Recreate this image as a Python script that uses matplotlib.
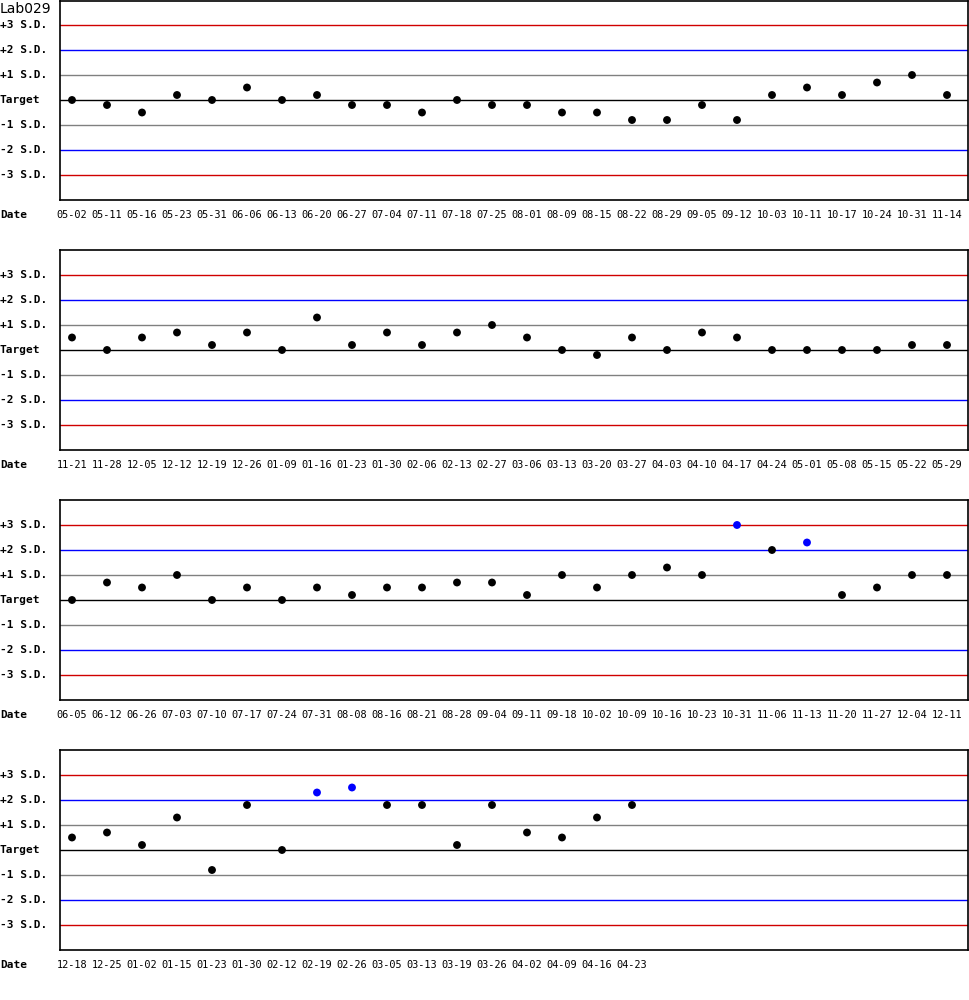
import matplotlib
matplotlib.use("Agg")
import matplotlib.pyplot as plt
import matplotlib.transforms as mtrans

title = "Lab029"
sd_levels = [3, 2, 1, 0, -1, -2, -3]
sd_labels = ["+3 S.D.", "+2 S.D.", "+1 S.D.", "Target", "-1 S.D.", "-2 S.D.", "-3 S.D."]
sd_colors = ["#d00000", "#0000ff", "#808080", "#000000", "#808080", "#0000ff", "#d00000"]

dates1 = ["05-02", "05-11", "05-16", "05-23", "05-31", "06-06", "06-13", "06-20", "06-27",
          "07-04", "07-11", "07-18", "07-25", "08-01", "08-09", "08-15", "08-22", "08-29",
          "09-05", "09-12", "10-03", "10-11", "10-17", "10-24", "10-31", "11-14"]
values1 = [0, -0.2, -0.5, 0.2, 0, 0.5, 0, 0.2, -0.2, -0.2, -0.5, 0, -0.2, -0.2, -0.5, -0.5,
           -0.8, -0.8, -0.2, -0.8, 0.2, 0.5, 0.2, 0.7, 1.0, 0.2]

dates2 = ["11-21", "11-28", "12-05", "12-12", "12-19", "12-26", "01-09", "01-16", "01-23",
          "01-30", "02-06", "02-13", "02-27", "03-06", "03-13", "03-20", "03-27", "04-03",
          "04-10", "04-17", "04-24", "05-01", "05-08", "05-15", "05-22", "05-29"]
values2 = [0.5, 0, 0.5, 0.7, 0.2, 0.7, 0, 1.3, 0.2, 0.7, 0.2, 0.7, 1.0, 0.5, 0, -0.2, 0.5,
           0, 0.7, 0.5, 0, 0, 0, 0, 0.2, 0.2]

dates3 = ["06-05", "06-12", "06-26", "07-03", "07-10", "07-17", "07-24", "07-31", "08-08",
          "08-16", "08-21", "08-28", "09-04", "09-11", "09-18", "10-02", "10-09", "10-16",
          "10-23", "10-31", "11-06", "11-13", "11-20", "11-27", "12-04", "12-11"]
values3 = [0, 0.7, 0.5, 1.0, 0, 0.5, 0, 0.5, 0.2, 0.5, 0.5, 0.7, 0.7, 0.2, 1.0, 0.5, 1.0,
           1.3, 1.0, 3.0, 2.0, 2.3, 0.2, 0.5, 1.0, 1.0]

dates4 = ["12-18", "12-25", "01-02", "01-15", "01-23", "01-30", "02-12", "02-19", "02-26",
          "03-05", "03-13", "03-19", "03-26", "04-02", "04-09", "04-16", "04-23"]
values4 = [0.5, 0.7, 0.2, 1.3, -0.8, 1.8, 0, 2.3, 2.5, 1.8, 1.8, 0.2, 1.8, 0.7, 0.5, 1.3, 1.8]

panels = [(dates1, values1), (dates2, values2), (dates3, values3), (dates4, values4)]

W, H = 970, 1000
fig = plt.figure(figsize=(W / 100, H / 100), dpi=100)
fig.patch.set_facecolor("white")

mono = "DejaVu Sans Mono"
left_px, right_px = 60, 968
first_x_px, step_px = 72, 35
xmin = (left_px - first_x_px) / step_px
xmax = (right_px - first_x_px) / step_px

for k, (dates, vals) in enumerate(panels):
    top_px = 250 * k + (1 if k == 0 else 0)
    bot_px = 250 * k + 200
    ax = fig.add_axes([left_px / W, 1 - bot_px / H, (right_px - left_px) / W, (bot_px - top_px) / H])
    ax.set_xlim(xmin, xmax)
    ax.set_ylim(-4, 4 - (top_px - 250 * k) / 25)
    for lvl, col in zip(sd_levels, sd_colors):
        ax.axhline(lvl, color=col, lw=1.0, zorder=1)
    xs = list(range(len(dates)))
    cols = ["#0000ff" if abs(v) > 2 else "#000000" for v in vals]
    ax.scatter(xs, vals, s=32, c=cols, zorder=3, linewidths=0)
    ax.set_yticks([])
    ax.set_xticks(xs)
    ax.set_xticklabels(dates, family=mono, fontsize=7.4)
    ax.tick_params(axis="x", length=0, pad=7)
    for sp in ax.spines.values():
        sp.set_color("black")
        sp.set_linewidth(1.2)
    tr = mtrans.blended_transform_factory(fig.transFigure, ax.transData)
    for lvl, lab in zip(sd_levels, sd_labels):
        ax.text(0.0, lvl, lab, transform=tr, ha="left", va="center",
                family=mono, fontsize=8, fontweight="bold")
    fig.text(0.0, 1 - (250 * k + 215) / H, "Date", ha="left", va="center",
             family=mono, fontsize=8, fontweight="bold")

fig.text(0.0, 1 - 9 / H, title, ha="left", va="center", family="DejaVu Sans", fontsize=10)

fig.savefig("out.png", dpi=100)
